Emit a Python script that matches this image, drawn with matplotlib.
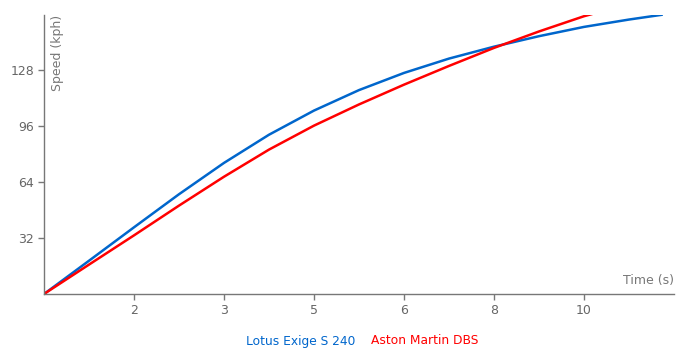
import matplotlib
matplotlib.use("Agg")
import matplotlib.pyplot as plt

# Data
time_lotus = [0, 0.8, 1.6, 2.4, 3.2, 4.0, 4.8, 5.6, 6.4, 7.2, 8.0, 8.8, 9.6, 10.4, 11.0]
speed_lotus = [0, 19.0, 38.1, 57.0, 74.9, 91.0, 104.8, 116.5, 126.3, 134.5, 141.3, 147.3, 152.6, 156.8, 159.6]
time_aston = [0, 0.8, 1.6, 2.4, 3.2, 4.0, 4.8, 5.6, 6.4, 7.2, 8.0, 8.8, 9.6, 9.75]
speed_aston = [0, 16.8, 33.5, 50.5, 67.0, 82.5, 96.2, 108.3, 119.6, 130.3, 140.6, 150.0, 158.7, 160.0]
x_ticks = [1.6, 3.2, 4.8, 6.4, 8.0, 9.6]
x_tick_labels = ["2", "3", "5", "6", "8", "10"]
y_ticks = [32, 64, 96, 128]
series_names = ["Lotus Exige S 240", "Aston Martin DBS"]
series_colors = ["#0066cc", "#ff0000"]

gray = "#777777"
fig = plt.figure(figsize=(7, 3.6), dpi=100)
ax = fig.add_axes([44/700, 66/360, 630/700, 279/360])
ax.plot(time_lotus, speed_lotus, color=series_colors[0], lw=1.8, solid_capstyle="butt")
ax.plot(time_aston, speed_aston, color=series_colors[1], lw=1.8, solid_capstyle="butt")
ax.set_xlim(0, 11.2)
ax.set_ylim(0, 159.4)
ax.set_xticks(x_ticks)
ax.set_xticklabels(x_tick_labels)
ax.set_yticks(y_ticks)
for s in ["top", "right"]:
    ax.spines[s].set_visible(False)
for s in ["left", "bottom"]:
    ax.spines[s].set_color(gray)
    ax.spines[s].set_linewidth(1)
ax.tick_params(colors=gray, labelcolor="#666666", length=4, width=1, labelsize=9, pad=3)
ax.text(0.021, 1.0, "Speed (kph)", transform=ax.transAxes, rotation=90,
        ha="center", va="top", color=gray, fontsize=9)
ax.text(1.0, 0.025, "Time (s)", transform=ax.transAxes, ha="right", va="bottom",
        color=gray, fontsize=9)

fig.text(355/700, 1 - 341/360, series_names[0], color=series_colors[0], ha="right", va="center", fontsize=8.8)
fig.text(371/700, 1 - 341/360, series_names[1], color=series_colors[1], ha="left", va="center", fontsize=8.8)
fig.savefig("out.png", dpi=100)
